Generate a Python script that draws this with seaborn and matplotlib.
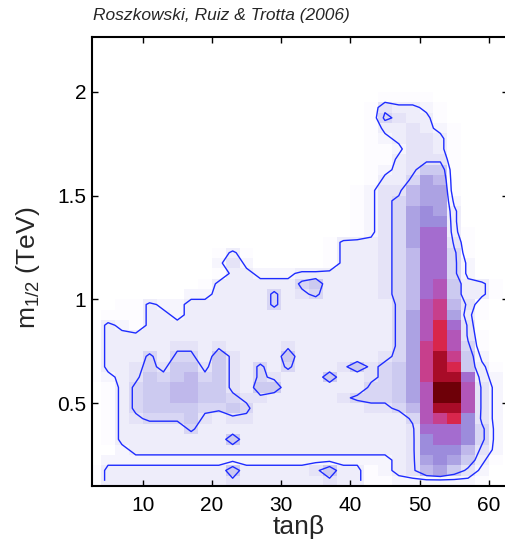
import numpy as np
import pandas as pd
import matplotlib
matplotlib.use("Agg")
import matplotlib.pyplot as plt
import seaborn as sns
from matplotlib.colors import LinearSegmentedColormap

# ---- data: binned posterior density (hex level 0..f) ----
# columns: tan(beta) bin centres; rows: m_1/2 (TeV) bin centres (top -> bottom)
tanb_centers = [3, 5, 7, 9, 11, 13, 15, 17, 19, 21, 23, 25, 27, 29, 31,
                33, 35, 37, 39, 41, 43, 45, 47, 49, 51, 53, 55, 57, 59, 61]
m_centers = [2.275, 2.225, 2.175, 2.125, 2.075, 2.025, 1.975, 1.925, 1.875, 1.825,
             1.775, 1.725, 1.675, 1.625, 1.575, 1.525, 1.475, 1.425, 1.375, 1.325,
             1.275, 1.225, 1.175, 1.125, 1.075, 1.025, 0.975, 0.925, 0.875, 0.825,
             0.775, 0.725, 0.675, 0.625, 0.575, 0.525, 0.475, 0.425, 0.375, 0.325,
             0.275, 0.225, 0.175, 0.125]
density_rows = [
    "000000000000000000000000000000",
    "000000000000000000000000000000",
    "000000000000000000000000000000",
    "000000000000000000000000000000",
    "000000000000000000000000000000",
    "000000000000000000000000000000",
    "000000000000000000000111100000",
    "000000000000000000001433210000",
    "000000000000000000001543310000",
    "000000000000000000001334321000",
    "000000000000000000001234431000",
    "000000000000000000001124431000",
    "000000000000000000001134441000",
    "000000000000000000001234661000",
    "000000000000000000001335871000",
    "000000000000000000012447881000",
    "000000000000000000012457882000",
    "000000000000000000012458983000",
    "000000000000000000012458993000",
    "000000000000000000012458aa3100",
    "000000000000000001333458aa4100",
    "000000000131000001333457aa5100",
    "000000000242000001333457aa5200",
    "000000000133222333333457aa5200",
    "000000001333333563333457ab6331",
    "000000022333353453333457ab6331",
    "001132233333353333333357bc7410",
    "011133233333333333333358bc8310",
    "132133333333333333333358bda400",
    "133333333333333333333358bdb410",
    "133333443433334333333358cdb510",
    "133353553643336333333458cec620",
    "133454664643535333464568ced631",
    "123465675643543336334568ceea32",
    "013566776643663333335568bffb42",
    "013566776654433333455568bffb42",
    "013566665565333333334457beeb42",
    "013455564344333333333335bcd942",
    "013333353333333333333334aaa952",
    "0133333333633333333333349aa952",
    "002333333333333333333334999742",
    "022222222222222222222234898631",
    "133333333363333346331234786420",
    "133333333343333334331122222210",
]
contour_levels = [2.5, 4.5]          # 95% and 68% credible-region levels
xtick_vals = [10, 20, 30, 40, 50, 60]
xtick_labels = ["10", "20", "30", "40", "50", "60"]
ytick_vals = [0.5, 1.0, 1.5, 2.0]
ytick_labels = ["0.5", "1", "1.5", "2"]
level_colors = ["#ffffff", "#fdfcff", "#f6f5fd", "#eeedfa", "#e5e3f7", "#d8d6f4",
                "#cccaf0", "#bfb8eb", "#aca2e3", "#9c8cdc", "#a46ccf", "#b256b8",
                "#c73f8c", "#d8264c", "#a80c28", "#6e0008"]

Z = np.array([[int(ch, 16) for ch in row] for row in density_rows], dtype=float)
df = pd.DataFrame(Z, index=m_centers, columns=tanb_centers)

# ---- style ----
sns.set_style("white")
plt.rcParams["font.family"] = ["Liberation Sans", "DejaVu Sans"]
plt.rcParams["mathtext.fontset"] = "custom"
plt.rcParams["mathtext.rm"] = "Liberation Sans"
plt.rcParams["mathtext.it"] = "Liberation Sans:italic"

cmap = LinearSegmentedColormap.from_list("post", level_colors, N=256)

W, H = 506, 544
fig = plt.figure(figsize=(W / 100, H / 100), dpi=100)
ax = fig.add_axes([92 / W, (H - 486) / H, (507.5 - 92) / W, (486 - 37) / H])

sns.heatmap(df, ax=ax, cmap=cmap, vmin=0, vmax=15, cbar=False,
            xticklabels=False, yticklabels=False)
ax.set_axisbelow(False)

# bin geometry of the grid (tan beta bins 2 wide from 2, m bins 0.05 from 2.3 down)
def xc(t):
    return (t - 2.0) / 2.0

def yc(m):
    return (2.3 - m) / 0.05

Xc = np.arange(Z.shape[1]) + 0.5
Yc = np.arange(Z.shape[0]) + 0.5
ax.contour(Xc, Yc, Z, levels=contour_levels, colors="#1e2cff", linewidths=1.0)

ax.set_xlim(xc(2.68), xc(62.7))
ax.set_ylim(yc(0.1), yc(2.265))
ax.set_xticks([xc(t) for t in xtick_vals])
ax.set_xticklabels(xtick_labels)
ax.set_yticks([yc(m) for m in ytick_vals])
ax.set_yticklabels(ytick_labels, rotation=0)
ax.set_xlabel("")
ax.set_ylabel("")

for s in ax.spines.values():
    s.set_visible(True)
    s.set_color("black")
    s.set_linewidth(1.5)
    s.set_zorder(5)
ax.tick_params(direction="in", length=4, width=1, top=True, right=True,
               bottom=True, left=True, labelsize=15, colors="black")
ax.tick_params(axis="x", pad=7)
ax.tick_params(axis="y", pad=4)

fig.text(93 / W, 1 - 20 / H, "Roszkowski, Ruiz & Trotta (2006)", fontsize=12.5,
         style="italic", va="baseline", ha="left")
fig.text(299 / W, 1 - 534 / H, "tan\u03b2", fontsize=19, ha="center", va="baseline")
fig.text(28 / W, 1 - 268 / H, r"m$_{\mathrm{1/2}}$ (TeV)", fontsize=19, rotation=90,
         ha="center", va="center")

fig.savefig("out.png", dpi=100)
